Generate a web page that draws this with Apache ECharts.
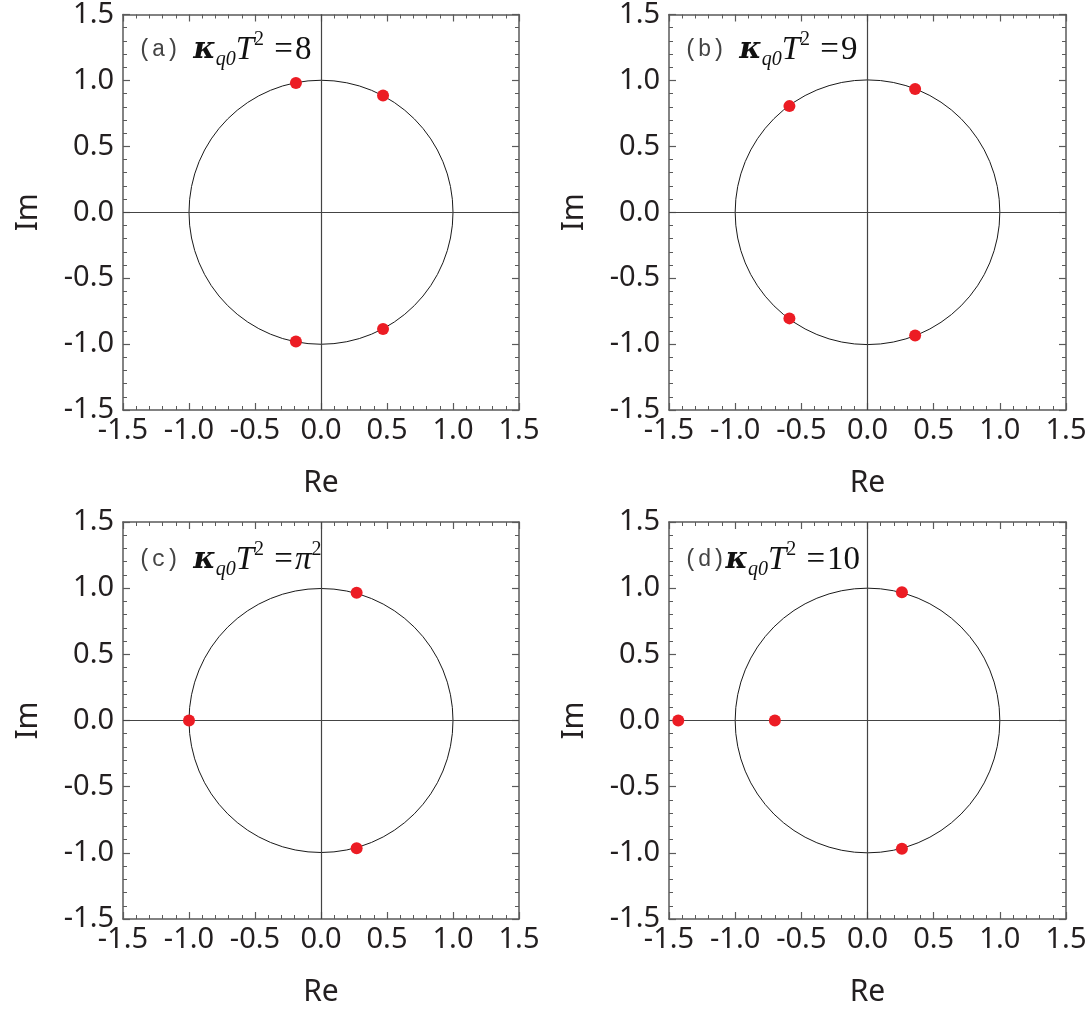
<html>
<head>
<meta charset="UTF-8">
<script src="https://cdn.jsdelivr.net/npm/echarts@6/dist/echarts.min.js"></script>
<title>roots</title>
</head>
<body style="margin:0">
<div id="main" style="width:1092px;height:1012px"></div>
<script type="text/javascript">
	// panel tags and the value on the right of the equation
	var panelTags = ['(a) ', '(b) ', '(c) ', '(d)'];
	var panelRhs = ['8', '9', 'π', '10'];
	var panelRhsSup = ['', '', '2', ''];
	// roots in the complex plane [Re, Im]
	var rootsA = [[-0.19, 0.98], [0.47, 0.885], [-0.19, -0.98], [0.47, -0.885]];
	var rootsB = [[-0.59, 0.805], [0.36, 0.935], [-0.59, -0.805], [0.36, -0.935]];
	var rootsC = [[0.27, 0.965], [-1.0, 0.0], [0.27, -0.965]];
	var rootsD = [[0.26, 0.97], [-1.43, 0.0], [-0.70, 0.0], [0.26, -0.97]];
	var roots = [rootsA, rootsB, rootsC, rootsD];
	// unit circle [centerRe, centerIm, radius]
	var circle = [[0, 0, 1]];
	var axisMin = -1.5, axisMax = 1.5, axisStep = 0.5;

	var grids = [
		{ left: 123, top: 12, width: 396, height: 398 },
		{ left: 669, top: 12, width: 397, height: 398 },
		{ left: 123, top: 522, width: 396, height: 397 },
		{ left: 669, top: 522, width: 397, height: 397 }
	];
	var labelFont = 'Noto Sans';
	var lineCol = '#5a5a5a';
	var textCol = '#231f20';

	var xAxes = [], yAxes = [], series = [], titles = [];
	for (var i = 0; i < 4; i++) {
		var base = {
			gridIndex: i, type: 'value', min: axisMin, max: axisMax, interval: axisStep,
			axisLine: { show: true, onZero: false, lineStyle: { color: lineCol, width: 1.5 } },
			axisTick: { show: true, inside: true, length: 7, lineStyle: { color: lineCol, width: 1.2 } },
			minorTick: { show: true, splitNumber: 5, length: 4, lineStyle: { color: lineCol, width: 1 } },
			splitLine: { show: false }
		};
		xAxes.push(Object.assign({}, base, {
			position: 'bottom', name: 'Re', nameLocation: 'middle', nameGap: 58,
			nameTextStyle: { fontFamily: labelFont, fontSize: 30, color: textCol },
			axisLabel: { fontFamily: labelFont, fontSize: 29, color: textCol, margin: 6,
				formatter: function (v) { return v.toFixed(1); } }
		}));
		xAxes.push(Object.assign({}, base, { position: 'top', axisLabel: { show: false } }));
		yAxes.push(Object.assign({}, base, {
			position: 'left', name: 'Im', nameLocation: 'middle', nameGap: 80, nameRotate: 90,
			nameTextStyle: { fontFamily: labelFont, fontSize: 30, color: textCol },
			axisLabel: { fontFamily: labelFont, fontSize: 29, color: textCol, margin: 9,
				formatter: function (v) { return v.toFixed(1); } }
		}));
		yAxes.push(Object.assign({}, base, { position: 'right', axisLabel: { show: false } }));

		series.push({
			type: 'custom', xAxisIndex: 2 * i, yAxisIndex: 2 * i, silent: true, z: 2,
			renderItem: function (params, api) {
				var c = api.coord([api.value(0), api.value(1)]);
				var r = api.size([api.value(2), 0])[0];
				return { type: 'circle', shape: { cx: c[0], cy: c[1], r: r },
					style: { fill: 'none', stroke: '#1a1a1a', lineWidth: 1 } };
			},
			data: circle,
			markLine: {
				silent: true, symbol: 'none', label: { show: false },
				lineStyle: { color: '#444', width: 1.2, type: 'solid' },
				data: [{ xAxis: 0 }, { yAxis: 0 }]
			}
		});
		series.push({
			type: 'scatter', xAxisIndex: 2 * i, yAxisIndex: 2 * i, z: 5,
			symbolSize: 12, itemStyle: { color: '#ec1c24', opacity: 1 },
			data: roots[i]
		});

		var rhs = panelRhsSup[i] ? '{rhsi|' + panelRhs[i] + '}{sup|' + panelRhsSup[i] + '}' : '{rhs|' + panelRhs[i] + '}';
		titles.push({
			left: grids[i].left + 10, top: grids[i].top + 13,
			text: '{tag|' + panelTags[i] + '}{k|κ}{sub|q0}{t|T}{sup|2}{eq| =}' + rhs,
			textStyle: {
				fontWeight: 'normal',
				rich: {
					tag: { fontFamily: 'Liberation Mono', fontWeight: 'normal', fontSize: 23, color: '#444', lineHeight: 40, verticalAlign: 'middle' },
					k: { fontFamily: 'DejaVu Serif', fontStyle: 'italic', fontWeight: 'bold', fontSize: 30, color: '#111', lineHeight: 40, verticalAlign: 'middle' },
					sub: { fontFamily: 'Liberation Serif', fontStyle: 'italic', fontWeight: 'normal', fontSize: 20, color: '#111', lineHeight: 40, verticalAlign: 'bottom' },
					t: { fontFamily: 'Liberation Serif', fontStyle: 'italic', fontWeight: 'normal', fontSize: 33, color: '#111', lineHeight: 40, verticalAlign: 'middle' },
					sup: { fontFamily: 'Liberation Serif', fontWeight: 'normal', fontSize: 20, color: '#111', lineHeight: 40, verticalAlign: 'top' },
					eq: { fontFamily: 'Liberation Serif', fontWeight: 'normal', fontSize: 33, color: '#111', lineHeight: 40, verticalAlign: 'middle', padding: [0, 2, 0, 2] },
					rhs: { fontFamily: 'Liberation Serif', fontWeight: 'normal', fontSize: 33, color: '#111', lineHeight: 40, verticalAlign: 'middle' },
					rhsi: { fontFamily: 'Liberation Serif', fontStyle: 'italic', fontWeight: 'normal', fontSize: 33, color: '#111', lineHeight: 40, verticalAlign: 'middle' }
				}
			}
		});
	}

	var myChart = echarts.init(document.getElementById('main'));
	myChart.setOption({
		animation: false,
		backgroundColor: '#fff',
		title: titles,
		grid: grids,
		xAxis: xAxes,
		yAxis: yAxes,
		series: series
	});
</script>
</body>
</html>
